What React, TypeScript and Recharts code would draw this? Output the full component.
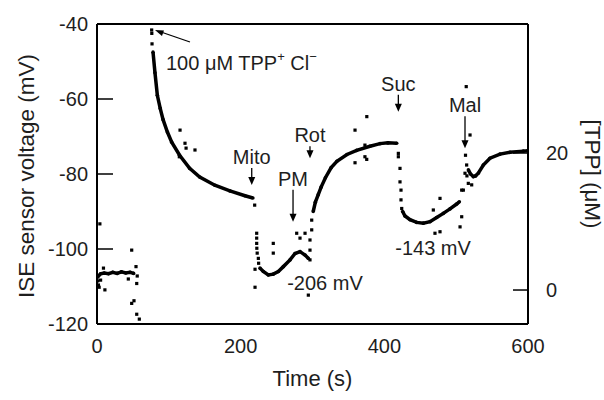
import React from 'react';
import { ScatterChart, Scatter, XAxis, YAxis, ReferenceLine, ReferenceDot } from 'recharts';

type Pt = [number, number];

// time (s), ISE voltage (mV)
const baselineCurve: Pt[] = [[0, -107.6], [2, -107.2], [5, -106.6], [10, -106.4], [16, -106.6], [22, -106.2], [28, -106.5], [34, -106.1], [40, -106.4], [46, -106.2], [51, -106.5]];
const baselineDots: Pt[] = [[1, -108.5], [2, -109.6], [3, -110.2], [4, -93.3], [5, -108.3], [9, -105.1], [11, -110.9], [43.6, -108], [48.3, -100.3], [54.3, -104.7], [56, -107.2], [55.3, -109.2], [48.3, -114.5], [51.5, -113.8], [55.3, -117.4], [58.9, -118.7]];

const decayDots: Pt[] = [[76.1, -41.6], [76.3, -42.5], [76.6, -45.3], [115.6, -68.3], [122.5, -71.8], [124, -73.1], [114.6, -75.4], [136.4, -73.6], [219.5, -88.3]];
const decayCurve: Pt[] = [[78, -47.5], [80.7, -53], [84, -59], [88, -62.5], [92, -65.5], [98, -68.8], [104, -71.5], [115, -75], [129, -78.5], [143, -80.8], [164, -83], [185, -84.5], [206, -85.8], [217, -86.4]];

const mitoDots: Pt[] = [[222.3, -95.8], [222.3, -97.1], [222.3, -98.5], [222.5, -99.8], [223, -101.1], [224.6, -102.5], [225, -103.8], [220, -105.4], [220, -110.2], [245.4, -98.5], [245.4, -101.1], [278, -95.8], [289.6, -95.8], [282.6, -97.1], [294.2, -112.3]];
const mitoCurve: Pt[] = [[226.9, -105.1], [231.5, -106], [238.5, -106.9], [245.4, -106.7], [252.4, -106], [259.4, -104.7], [268.7, -102.9], [275.7, -101.2], [282.6, -100.7], [289.6, -101.6], [294.2, -102.5]];

const rotDots: Pt[] = [[296.5, -102.9], [296.5, -100.3], [296.5, -97.6], [298.9, -94.9], [298.9, -92.3], [359.2, -68.3], [359.2, -77], [373, -75.4], [375.5, -76.1], [373, -72.3], [375.6, -64.7]];
const rotCurve: Pt[] = [[301, -90], [304, -87.5], [308, -85.5], [312, -83.5], [318, -81], [326, -78.3], [334, -76.6], [348, -74.8], [361.5, -73.7], [380, -72.6], [394, -71.9], [405, -71.7], [417.2, -71.8]];

const sucDots: Pt[] = [[419.5, -74.5], [419.5, -75.4], [421.8, -78.5], [421.8, -82.1], [423.2, -84.3], [423.2, -86.9], [424.2, -89.2], [477.5, -86.5], [468.2, -89.6], [470.5, -95.8], [477.5, -95.4], [505.4, -94.1], [507.7, -91.4], [507.7, -84.3]];
const sucCurve: Pt[] = [[425.5, -90], [428.8, -91.2], [435.8, -92.2], [445, -92.9], [454.3, -93.1], [463.6, -92.7], [472.9, -91.6], [482.1, -90.5], [491.4, -89.3], [500.7, -88], [504.4, -87.4]];

const malDots: Pt[] = [[510, -84.3], [512.3, -79.8], [514.6, -77.6], [519.3, -69.6], [521.6, -82.9], [516.9, -82.5], [514, -56.7], [513, -75], [515, -80.5]];
const malCurve: Pt[] = [[517, -78.9], [520, -80], [523.9, -80.7], [527, -80.5], [530.8, -79.8], [537.8, -77.6], [547.1, -75.8], [561, -74.7], [575, -74.2], [593.5, -73.9], [600, -73.8]];

const curves = [baselineCurve, decayCurve, mitoCurve, rotCurve, sucCurve, malCurve];
const dotSets = [baselineDots, decayDots, mitoDots, rotDots, sucDots, malDots];

const xTicks = [0, 200, 400, 600];
const mvTicks = [-120, -100, -80, -60, -40];
const tppTicks = [0, 20];

// arrow annotations: name, time (s), mV at arrow tip
const noteNames = ['Mito', 'PM', 'Rot', 'Suc', 'Mal'];
const noteTimes = [215.4, 272.9, 296.5, 419.5, 512.3];
const noteTipMv = [-82.9, -92.7, -75.8, -63.4, -73.1];
const noteArrowPx = [17, 32, 12, 17, 32];

const potNames = ['-206 mV', '-143 mV'];
const potTimes = [317.4, 467.8];
const potMv = [-109.1, -99.8];

const tppTime = 80.7;
const tppMv = -41.6;

const FONT = '"Liberation Sans", Arial, sans-serif';
const INK = '#1e1e1e';

const toRows = (pts: Pt[]) => pts.map(([t, mv]) => ({ t, mv }));

const Square = (p: any) => <rect x={p.cx - 1.6} y={p.cy - 1.6} width={3.2} height={3.2} fill="#000" />;
const SmallDot = (p: any) => <circle cx={p.cx} cy={p.cy} r={1.8} fill="#000" />;

const LeftTick = (p: any) => (
  <g>
    <line x1={p.x + 9} x2={p.x + 25} y1={p.y} y2={p.y} stroke="#000" strokeWidth={1.5} />
    <text x={p.x} y={p.y} textAnchor="end" dominantBaseline="central" fontSize={20} fontFamily={FONT} fill={INK}>
      {p.payload.value}
    </text>
  </g>
);

const RightTick = (p: any) => (
  <g>
    <line x1={p.x - 18} x2={p.x - 33} y1={p.y} y2={p.y} stroke="#000" strokeWidth={1.5} />
    <text x={p.x} y={p.y} textAnchor="start" dominantBaseline="central" fontSize={20} fontFamily={FONT} fill={INK}>
      {p.payload.value}
    </text>
  </g>
);

const leftTitle = (p: any) => {
  const vb = p.viewBox;
  const x = vb.x + 26;
  const y = vb.y + vb.height / 2 + 2;
  return (
    <text x={x} y={y} transform={`rotate(-90 ${x} ${y})`} textAnchor="middle" dominantBaseline="central" fontSize={22.5} fontFamily={FONT} fill={INK}>
      ISE sensor voltage (mV)
    </text>
  );
};

const rightTitle = (p: any) => {
  const vb = p.viewBox;
  const x = vb.x + 64;
  const y = vb.y + vb.height / 2;
  return (
    <text x={x} y={y} transform={`rotate(90 ${x} ${y})`} textAnchor="middle" dominantBaseline="central" fontSize={22.5} fontFamily={FONT} fill={INK}>
      [TPP] (μM)
    </text>
  );
};

const bottomTitle = (p: any) => {
  const vb = p.viewBox;
  return (
    <text x={vb.x + vb.width / 2} y={vb.y + 54} textAnchor="middle" dominantBaseline="central" fontSize={22} fontFamily={FONT} fill={INK}>
      Time (s)
    </text>
  );
};

const arrowNote = (name: string, len: number) => (p: any) => {
  const { cx, cy } = p;
  return (
    <g>
      <line x1={cx} x2={cx} y1={cy - len} y2={cy - 6} stroke="#000" strokeWidth={1.3} />
      <path d={`M${cx - 3.5},${cy - 8} L${cx + 3.5},${cy - 8} L${cx},${cy} Z`} fill="#000" />
      <text x={cx} y={cy - len - 11} textAnchor="middle" dominantBaseline="central" fontSize={20} fontFamily={FONT} fill={INK}>
        {name}
      </text>
    </g>
  );
};

const potLabel = (name: string) => (p: any) => (
  <text x={p.cx} y={p.cy} textAnchor="middle" dominantBaseline="central" fontSize={20} fontFamily={FONT} fill={INK}>
    {name}
  </text>
);

const tppNote = (p: any) => {
  const { cx, cy } = p;
  return (
    <g>
      <line x1={cx + 35} y1={cy + 12} x2={cx + 6} y2={cy + 2} stroke="#000" strokeWidth={1.3} />
      <path d={`M${cx},${cy} L${cx + 9},${cy + 0.5} L${cx + 7},${cy + 6} Z`} fill="#000" />
      <text x={cx + 11} y={cy + 40} fontSize={20} fontFamily={FONT} fill={INK}>
        100 μM TPP<tspan dy={-9} fontSize={13}>+</tspan>
        <tspan dy={9}> Cl</tspan>
        <tspan dy={-9} fontSize={13}>−</tspan>
      </text>
    </g>
  );
};

export default function App() {
  return (
    <div style={{ position: 'absolute', left: 0, top: 0, background: '#fff' }}>
      <ScatterChart width={604} height={400} margin={{ top: 24, right: 0, bottom: 0, left: 0 }}>
        <XAxis
          dataKey="t"
          type="number"
          domain={[0, 600]}
          ticks={xTicks}
          allowDataOverflow
          height={76}
          tickSize={0}
          tickMargin={15}
          tickLine={false}
          axisLine={{ stroke: '#000', strokeWidth: 2 }}
          tick={{ fontSize: 20, fill: INK, fontFamily: FONT }}
          label={bottomTitle}
        />
        <YAxis
          yAxisId="left"
          dataKey="mv"
          type="number"
          domain={[-120, -40]}
          ticks={mvTicks}
          allowDataOverflow
          width={97}
          tickSize={0}
          tickMargin={9}
          tickLine={false}
          axisLine={{ stroke: '#000', strokeWidth: 2 }}
          tick={LeftTick}
          label={leftTitle}
        />
        <YAxis
          yAxisId="right"
          orientation="right"
          type="number"
          domain={[-4.96, 38.83]}
          ticks={tppTicks}
          allowDataOverflow
          width={76}
          tickSize={0}
          tickMargin={18}
          tickLine={false}
          axisLine={{ stroke: '#000', strokeWidth: 2 }}
          tick={RightTick}
          label={rightTitle}
        />
        <ReferenceLine yAxisId="left" y={-40} stroke="#000" strokeWidth={2} />
        {curves.map((c, i) => (
          <Scatter
            key={`c${i}`}
            yAxisId="left"
            data={toRows(c)}
            line={{ stroke: '#000', strokeWidth: 3.5 }}
            lineType="joint"
            shape={SmallDot}
            isAnimationActive={false}
          />
        ))}
        {dotSets.map((d, i) => (
          <Scatter key={`d${i}`} yAxisId="left" data={toRows(d)} shape={Square} isAnimationActive={false} />
        ))}
        {noteNames.map((n, i) => (
          <ReferenceDot key={n} yAxisId="left" x={noteTimes[i]} y={noteTipMv[i]} shape={arrowNote(n, noteArrowPx[i])} />
        ))}
        {potNames.map((n, i) => (
          <ReferenceDot key={n} yAxisId="left" x={potTimes[i]} y={potMv[i]} shape={potLabel(n)} />
        ))}
        <ReferenceDot yAxisId="left" x={tppTime} y={tppMv} shape={tppNote} />
      </ScatterChart>
    </div>
  );
}
